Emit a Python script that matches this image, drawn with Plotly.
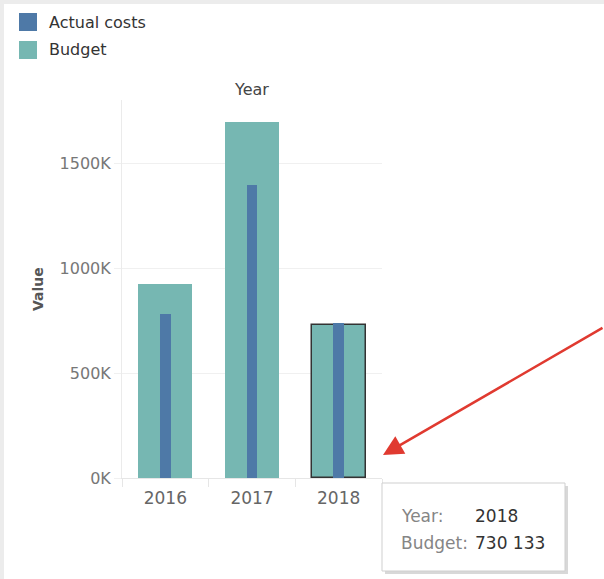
import plotly.graph_objects as go

years = ["2016", "2017", "2018"]
budget = [926000, 1700000, 730133]
actual = [783000, 1400000, 740000]
tick_vals = [0, 500000, 1000000, 1500000]
tick_text = ["0K", "500K", "1000K", "1500K"]

ACT = "#4e79a7"
BUD = "#76b7b2"
FONT = "DejaVu Sans, Open Sans, sans-serif"

W, H = 604, 579
L, R, T, B = 122, 382, 100, 478


def px(x):
    return (x - L) / (R - L)


def py(y):
    return (B - y) / (B - T)


fig = go.Figure()
fig.add_trace(go.Bar(x=years, y=budget, name="Budget", width=0.62,
                     marker=dict(color=BUD,
                                 line=dict(color=["rgba(0,0,0,0)", "rgba(0,0,0,0)", "#333333"],
                                           width=[0, 0, 1.5])),
                     showlegend=False))
fig.add_trace(go.Bar(x=years, y=actual, name="Actual costs", width=0.12,
                     marker=dict(color=ACT, line=dict(width=0)), showlegend=False))

shapes = []
# gray outer border
shapes.append(dict(type="rect", xref="paper", yref="paper", x0=px(0), x1=px(4), y0=py(0), y1=py(W), fillcolor="#ececec", line=dict(width=0), layer="below"))
shapes.append(dict(type="rect", xref="paper", yref="paper", x0=px(0), x1=px(W), y0=py(0), y1=py(4), fillcolor="#ececec", line=dict(width=0), layer="below"))
# legend squares
shapes.append(dict(type="rect", xref="paper", yref="paper", x0=px(19), x1=px(37), y0=py(13), y1=py(31), fillcolor=ACT, line=dict(width=0)))
shapes.append(dict(type="rect", xref="paper", yref="paper", x0=px(19), x1=px(37), y0=py(41), y1=py(59), fillcolor=BUD, line=dict(width=0)))
# tooltip shadow and box
shapes.append(dict(type="rect", xref="paper", yref="paper", x0=px(385), x1=px(568), y0=py(486), y1=py(574), fillcolor="#d8d8d8", line=dict(width=0)))
shapes.append(dict(type="rect", xref="paper", yref="paper", x0=px(382), x1=px(565), y0=py(483), y1=py(571), fillcolor="#ffffff", line=dict(color="#cfcfcf", width=1)))

annotations = [
    dict(text="Actual costs", x=px(47), y=py(22), xref="paper", yref="paper", xanchor="left", yanchor="middle", showarrow=False, font=dict(size=16, color="#333333")),
    dict(text="Budget", x=px(47), y=py(50), xref="paper", yref="paper", xanchor="left", yanchor="middle", showarrow=False, font=dict(size=16, color="#333333")),
    dict(text="Year", x=px(251), y=py(90), xref="paper", yref="paper", xanchor="center", yanchor="middle", showarrow=False, font=dict(size=16, color="#444444")),
    dict(text="<b>Value</b>", x=px(38), y=py(289), xref="paper", yref="paper", xanchor="center", yanchor="middle", textangle=-90, showarrow=False, font=dict(size=14, color="#555555")),
    dict(text="Year:", x=px(399), y=py(516), xref="paper", yref="paper", xanchor="left", yanchor="middle", showarrow=False, font=dict(size=17, color="#858585")),
    dict(text="2018", x=px(473), y=py(516), xref="paper", yref="paper", xanchor="left", yanchor="middle", showarrow=False, font=dict(size=17, color="#333333")),
    dict(text="Budget:", x=px(399), y=py(543), xref="paper", yref="paper", xanchor="left", yanchor="middle", showarrow=False, font=dict(size=17, color="#858585")),
    dict(text="730 133", x=px(473), y=py(543), xref="paper", yref="paper", xanchor="left", yanchor="middle", showarrow=False, font=dict(size=17, color="#333333")),
    dict(text="", x=px(383), y=py(455), xref="paper", yref="paper", showarrow=True, ax=232, ay=-128, arrowhead=2, arrowsize=1.6, arrowwidth=2.5, arrowcolor="#e03a30", standoff=0),
]

fig.update_layout(
    width=W, height=H,
    margin=dict(l=L, r=W - R, t=T, b=H - B, pad=0),
    paper_bgcolor="#ffffff", plot_bgcolor="#ffffff",
    barmode="overlay", bargap=0,
    showlegend=False,
    font=dict(family=FONT, color="#666666"),
    shapes=shapes, annotations=annotations,
    xaxis=dict(type="category", range=[-0.5, 2.5], showgrid=False, showline=True, linecolor="#e6e6e6", linewidth=1,
               ticks="outside", tickson="boundaries", ticklen=8, tickcolor="#e6e6e6", ticklabelstandoff=5,
               tickfont=dict(size=17, color="#666666"), fixedrange=True),
    yaxis=dict(range=[0, 1805000], tickvals=tick_vals, ticktext=tick_text, showgrid=True, gridcolor="#f0f0f0",
               zeroline=False, showline=True, linecolor="#ebebeb", linewidth=1,
               ticks="outside", ticklen=7, tickcolor="#f0f0f0",
               tickfont=dict(size=16, color="#777777")),
)

fig.write_html("out.html")
